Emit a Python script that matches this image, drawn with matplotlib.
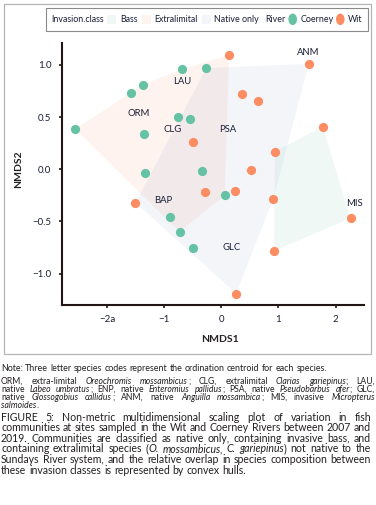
import matplotlib

matplotlib.use("Agg")
import matplotlib.pyplot as plt
from matplotlib.patches import Rectangle, Circle

# NMDS site scores
coerney_x = [-0.68, -0.26, -1.37, -1.57, -2.55, -0.76, -0.55, -1.35, -1.33, -0.33, 0.06, -0.90, -0.73, -0.50]
coerney_y = [0.96, 0.97, 0.81, 0.73, 0.385, 0.50, 0.48, 0.34, -0.04, -0.02, -0.25, -0.46, -0.60, -0.755]
coerney_cls = ["Extralimital", "Native only", "Extralimital", "Extralimital", "Extralimital", "Extralimital",
               "Extralimital", "Extralimital", "Extralimital", "Extralimital", "Extralimital", "Native only",
               "Extralimital", "Native only"]

wit_x = [0.135, 1.53, 0.37, 0.65, 1.77, -0.50, 0.94, 0.52, -0.28, 0.245, -1.50, 0.91, 2.26, 0.92, 0.26]
wit_y = [1.095, 1.01, 0.72, 0.65, 0.41, 0.26, 0.17, -0.01, -0.22, -0.21, -0.32, -0.28, -0.47, -0.78, -1.19]
wit_cls = ["Extralimital", "Native only", "Native only", "Native only", "Bass", "Extralimital", "Bass",
           "Native only", "Extralimital", "Native only", "Native only", "Native only", "Bass", "Bass",
           "Native only"]

# species centroids
species = ["ANM", "LAU", "ORM", "CLG", "PSA", "BAP", "GLC", "MIS"]
species_x = [1.52, -0.675, -1.44, -0.845, 0.117, -1.01, 0.175, 2.33]
species_y = [1.12, 0.84, 0.53, 0.38, 0.38, -0.30, -0.745, -0.325]

classes = ["Bass", "Extralimital", "Native only"]
class_colors = {"Bass": "#66c2a5", "Extralimital": "#fc8d62", "Native only": "#8da0cb"}
river_colors = {"Coerney": "#66c2a5", "Wit": "#fc8d62"}

x_ticks = [-2, -1, 0, 1, 2]
x_ticklabels = ["\u22122a", "\u22121", "0", "1", "2"]
y_ticks = [-1.0, -0.5, 0.0, 0.5, 1.0]
y_ticklabels = ["\u22121.0", "\u22120.5", "0.0", "0.5", "1.0"]

note = "Note: Three letter species codes represent the ordination centroid for each species."
key_lines = [
    "ORM, extra-limital _Oreochromis mossambicus_; CLG, extralimital _Clarias gariepinus_; LAU,",
    "native _Labeo umbratus_; ENP, native _Enteromius pallidus_; PSA, native _Pseudobarbus afer_; GLC,",
    "native _Glossogobius callidus_; ANM, native _Anguilla mossambica_; MIS, invasive _Micropterus_",
    "_salmoides_.",
]
caption_lines = [
    "FIGURE 5: Non-metric multidimensional scaling plot of variation in fish",
    "communities at sites sampled in the Wit and Coerney Rivers between 2007 and",
    "2019. Communities are classified as native only, containing invasive bass, and",
    "containing extralimital species (_O. mossambicus, C. gariepinus_) not native to the",
    "Sundays River system, and the relative overlap in species composition between",
    "these invasion classes is represented by convex hulls.",
]

W, H = 376, 505
FONT = "Lato"
INK = "#1b1f36"
HULL_ALPHA = 0.1


def fx(x):
    return x / W


def fy(y):
    return 1 - y / H


def convex_hull(pts):
    pts = sorted(set(pts))
    if len(pts) < 3:
        return pts

    def cross(o, a, b):
        return (a[0] - o[0]) * (b[1] - o[1]) - (a[1] - o[1]) * (b[0] - o[0])

    lower, upper = [], []
    for p in pts:
        while len(lower) >= 2 and cross(lower[-2], lower[-1], p) <= 0:
            lower.pop()
        lower.append(p)
    for p in reversed(pts):
        while len(upper) >= 2 and cross(upper[-2], upper[-1], p) <= 0:
            upper.pop()
        upper.append(p)
    return lower[:-1] + upper[:-1]


def parse_words(line):
    words = [[]]
    for i, chunk in enumerate(line.split("_")):
        italic = i % 2 == 1
        for j, part in enumerate(chunk.split(" ")):
            if j > 0:
                words.append([])
            if part:
                words[-1].append((part, italic))
    return [w for w in words if w]


def draw_line(fig, renderer, line, x0, x1, y, size, justify=True):
    """Place a line word by word; spread words to fill x0..x1 when justify is set."""
    words = parse_words(line)
    while True:
        base = y + 0.34 * size * fig.dpi / 72
        arts, widths = [], []
        for w in words:
            pieces = []
            wsum = 0
            for txt, it in w:
                t = fig.text(0, fy(base), txt, fontsize=size, family=FONT, color="#231f20",
                             style="italic" if it else "normal", va="baseline", ha="left")
                bw = t.get_window_extent(renderer).width
                pieces.append((t, bw))
                wsum += bw
            arts.append(pieces)
            widths.append(wsum)
        space = size * 0.26 * fig.dpi / 72
        if not justify or len(words) < 2:
            break
        fill = ((x1 - x0) - sum(widths)) / (len(words) - 1)
        if fill >= space * 0.7:
            space = fill
            break
        # too long: shrink a little and try again
        for pieces in arts:
            for t, _ in pieces:
                t.remove()
        size -= 0.1
    x = x0
    for pieces, wsum in zip(arts, widths):
        xx = x
        for t, bw in pieces:
            t.set_x(fx(xx))
            xx += bw
        x += wsum + space


fig = plt.figure(figsize=(W / 100, H / 100), dpi=100)
renderer = fig.canvas.get_renderer()

# outer frame and legend box
fig.add_artist(Rectangle((fx(4), fy(354)), fx(367), 350 / H, transform=fig.transFigure,
                         fill=False, edgecolor="#b4b4b4", lw=0.9))
fig.add_artist(Rectangle((fx(45.7), fy(30.7)), fx(322.3), 23 / H, transform=fig.transFigure,
                         fill=False, edgecolor="#8a8a8a", lw=0.8))

ax = fig.add_axes([fx(61.7), fy(305), fx(364.3 - 61.7), (305 - 43) / H])

# convex hulls per invasion class
all_x = coerney_x + wit_x
all_y = coerney_y + wit_y
all_cls = coerney_cls + wit_cls
for c in classes:
    pts = [(x, y) for x, y, k in zip(all_x, all_y, all_cls) if k == c]
    hull = convex_hull(pts)
    hx = [p[0] for p in hull]
    hy = [p[1] for p in hull]
    ax.fill(hx, hy, color=class_colors[c], alpha=HULL_ALPHA, lw=0, zorder=1)

ax.scatter(coerney_x, coerney_y, s=44, color=river_colors["Coerney"], lw=0, zorder=3)
ax.scatter(wit_x, wit_y, s=44, color=river_colors["Wit"], lw=0, zorder=3)

for name, x, y in zip(species, species_x, species_y):
    ax.text(x, y, name, fontsize=6.8, family=FONT, color=INK, ha="center", va="center", zorder=4)

ax.set_xlim(-2.79, 2.5)
ax.set_ylim(-1.30, 1.21)
ax.set_xticks(x_ticks)
ax.set_xticklabels(x_ticklabels)
ax.set_yticks(y_ticks)
ax.set_yticklabels(y_ticklabels)
for s in ["top", "right"]:
    ax.spines[s].set_visible(False)
for s in ["left", "bottom"]:
    ax.spines[s].set_linewidth(1.5)
    ax.spines[s].set_color("#231515")
ax.tick_params(direction="out", length=2.5, width=1.2, color="#231515", labelsize=7,
               labelcolor=INK, pad=5)
for lab in ax.get_xticklabels() + ax.get_yticklabels():
    lab.set_family(FONT)
ax.patch.set_visible(False)

fig.text(fx(220), fy(340), "NMDS1", fontsize=7.5, weight="bold", family=FONT, color="#231f20",
         ha="center", va="center")
fig.text(fx(18.3), fy(169), "NMDS2", fontsize=7.5, weight="bold", family=FONT, color="#231f20",
         ha="center", va="center", rotation=90)

# legend drawn by hand along the top strip
ly = 19.3
lsize = 6.4
fig.text(fx(51.7), fy(ly), "Invasion.class", fontsize=lsize, family=FONT, color=INK, va="center")
for c, x_patch, x_text in zip(classes, [107.3, 141.7, 201.7], [120, 154, 214]):
    fig.add_artist(Rectangle((fx(x_patch), fy(ly + 4.3)), fx(9), 8.6 / H, transform=fig.transFigure,
                             color=class_colors[c], alpha=HULL_ALPHA, lw=0))
    fig.text(fx(x_text), fy(ly), c, fontsize=lsize, family=FONT, color=INK, va="center")
fig.text(fx(265.7), fy(ly), "River", fontsize=lsize, family=FONT, color=INK, va="center")
for r, x_dot, x_text in zip(["Coerney", "Wit"], [292.7, 340.3], [301, 348.3]):
    fig.add_artist(Circle((fx(x_dot), fy(ly)), 4.3 / W, transform=fig.transFigure,
                          color=river_colors[r], lw=0))
    fig.text(fx(x_text), fy(ly), r, fontsize=lsize, family=FONT, color=INK, va="center")

# note and caption
draw_line(fig, renderer, note, 1, 328, 368.3, 6.4, justify=False)
for i, line in enumerate(key_lines):
    draw_line(fig, renderer, line, 1, 375, 381 + i * 8.1, 6.2, justify=i < len(key_lines) - 1)
for i, line in enumerate(caption_lines):
    draw_line(fig, renderer, line, 1, 371, 417 + i * 10.6, 7.6, justify=i < len(caption_lines) - 1)

fig.savefig("out.png", dpi=100)
